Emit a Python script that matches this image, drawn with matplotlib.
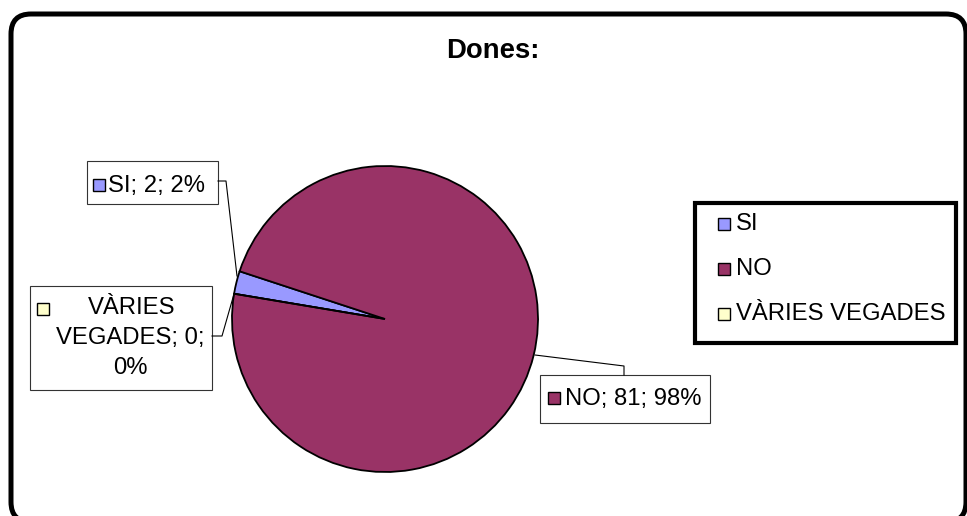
import matplotlib
matplotlib.use("Agg")
import matplotlib.pyplot as plt
from matplotlib.patches import Rectangle, FancyBboxPatch

plt.rcParams['font.family'] = ['Liberation Sans', 'DejaVu Sans']

# data
categories = ['SI', 'NO', 'VÀRIES VEGADES']
values = [2, 81, 0]
colors = ['#9999FF', '#993366', '#FFFFCC']
title = 'Dones:'

W, H = 967, 516


def Y(y):
    # pixel row -> data y
    return H - y


fig = plt.figure(figsize=(W / 100, H / 100), dpi=100)
ax = fig.add_axes([0, 0, 1, 1])

wedges, _ = ax.pie(values, colors=colors, startangle=170.5, counterclock=False,
                   center=(385, Y(319)), radius=153, frame=True,
                   wedgeprops=dict(edgecolor='black', linewidth=1.3))
ax.set_xlim(0, W)
ax.set_ylim(0, H)
ax.set_aspect('equal')
ax.axis('off')

# outer rounded border
ax.add_patch(FancyBboxPatch((11 + 20, Y(522) + 20), 955 - 40, 508 - 40,
                            boxstyle='round,pad=20', fill=False,
                            edgecolor='black', linewidth=3.6, clip_on=False))

ax.text(493, Y(51), title, ha='center', va='center', fontsize=19.8,
        fontweight='bold')

total = sum(values)
pct = [round(v * 100 / total) for v in values]
fs = 17.2

# data labels: SI
ax.add_patch(Rectangle((87, Y(204)), 131, 43, facecolor='white',
                       edgecolor='#333333', linewidth=0.8))
ax.add_patch(Rectangle((93, Y(191)), 12, 12, facecolor=colors[0],
                       edgecolor='black', linewidth=1))
ax.text(108, Y(186), f'{categories[0]}; {values[0]}; {pct[0]}%',
        ha='left', va='center', fontsize=fs)
ax.plot([218, 226, 237], [Y(181), Y(181), Y(276)], color='black', lw=0.8)

# VÀRIES VEGADES
ax.add_patch(Rectangle((30, Y(390)), 182, 104, facecolor='white',
                       edgecolor='#333333', linewidth=0.8))
ax.add_patch(Rectangle((37, Y(315)), 12, 12, facecolor=colors[2],
                       edgecolor='black', linewidth=1))
ax.text(132, Y(308), 'VÀRIES', ha='center', va='center', fontsize=fs)
ax.text(130, Y(338), f'VEGADES; {values[2]};', ha='center', va='center',
        fontsize=fs)
ax.text(130, Y(368), f'{pct[2]}%', ha='center', va='center', fontsize=fs)
ax.plot([212, 222, 234], [Y(336), Y(336), Y(294)], color='black', lw=0.8)

# NO
ax.add_patch(Rectangle((540, Y(423)), 170, 48, facecolor='white',
                       edgecolor='#333333', linewidth=0.8))
ax.add_patch(Rectangle((548, Y(404)), 12, 12, facecolor=colors[1],
                       edgecolor='black', linewidth=1))
ax.text(565, Y(399), f'{categories[1]}; {values[1]}; {pct[1]}%',
        ha='left', va='center', fontsize=fs)
ax.plot([535, 624, 624], [Y(355), Y(366), Y(375)], color='black', lw=0.8)

# legend
ax.add_patch(Rectangle((695, Y(343)), 261, 140, facecolor='white',
                       edgecolor='black', linewidth=3))
for i, (cat, col) in enumerate(zip(categories, colors)):
    yc = 224 + i * 45
    ax.add_patch(Rectangle((718, Y(yc + 6)), 12, 12, facecolor=col,
                           edgecolor='black', linewidth=1))
    ax.text(736, Y(yc), cat, ha='left', va='center', fontsize=fs)

fig.savefig('out.png', dpi=100)
